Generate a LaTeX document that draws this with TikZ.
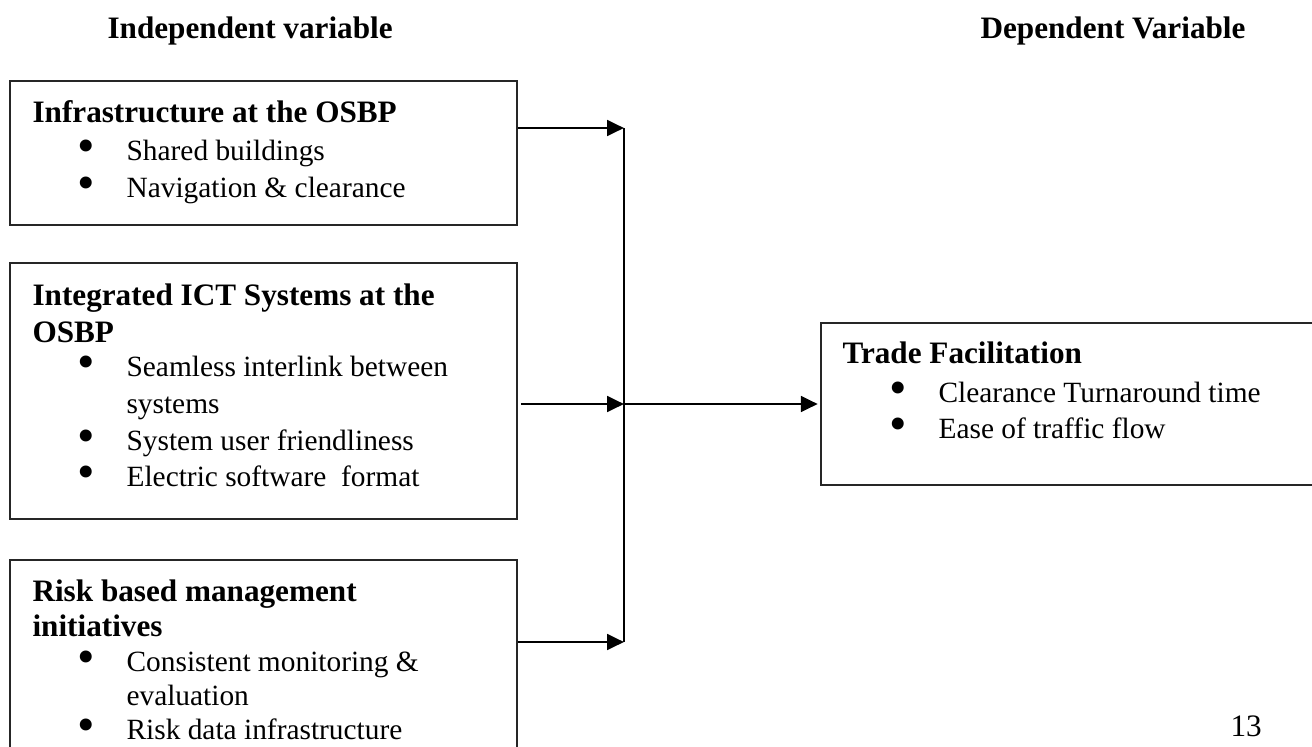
\documentclass[tikz,border=0pt]{standalone}
\usepackage{fontspec}
\setmainfont{Liberation Serif}
\usetikzlibrary{arrows.meta, positioning, fit}

\newcommand{\blt}{\makebox[30.8pt]{\smash{\raisebox{-0.9pt}{\scalebox{1.7}{\textbullet}}}}}

\begin{document}
\begin{tikzpicture}[
  x=0.3846pt, y=-0.3846pt,
  box/.style={draw=black!85, line width=0.5pt, inner sep=0pt},
  head/.style={anchor=base west, inner sep=0pt, font=\fontsize{12}{14}\selectfont\bfseries},
  txt/.style={anchor=base west, inner sep=0pt, font=\fontsize{11.3}{13.5}\selectfont},
  arrow/.style={draw, line width=1.1pt, -{Triangle[length=6.5pt, width=6pt]}},
  line/.style={draw, line width=0.5pt}
]

% Frame
\useasboundingbox (0,0) rectangle (1312,746);
\clip (0,0) rectangle (1312,746);

% Column titles
\node[head] (indep) at (107,38) {Independent variable};
\node[head] (dep) at (980,38) {Dependent Variable};

% Boxes
\node[box, fit={(10,81) (517,225)}] (infra) {};
\node[box, fit={(10,263) (517,519)}] (ict) {};
\node[box, fit={(10,560) (517,800)}] (risk) {};
\node[box, fit={(821,323) (1330,485)}] (trade) {};

% Infrastructure
\node[head] (infraT) at (32,122) {Infrastructure at the OSBP};
\node[txt] (infraA) at (46,160) {\blt Shared buildings};
\node[txt] (infraB) at (46,197) {\blt Navigation \& clearance};

% ICT systems
\node[head] (ictT1) at (32,305) {Integrated ICT Systems at the};
\node[head] (ictT2) at (32,342) {OSBP};
\node[txt] (ictA) at (46,376) {\blt Seamless interlink between};
\node[txt] (ictA2) at (126,413) {systems};
\node[txt] (ictB) at (46,450) {\blt System user friendliness};
\node[txt] (ictC) at (46,486) {\blt Electric software~ format};

% Risk management
\node[head] (riskT1) at (32,601) {Risk based management};
\node[head] (riskT2) at (32,636) {initiatives};
\node[txt] (riskA) at (46,671) {\blt Consistent monitoring \&};
\node[txt] (riskA2) at (126,705) {evaluation};
\node[txt] (riskB) at (46,739) {\blt Risk data infrastructure};

% Trade facilitation
\node[head] (tradeT) at (842,363) {Trade Facilitation};
\node[txt] (tradeA) at (858,402) {\blt Clearance Turnaround time};
\node[txt] (tradeB) at (858,438) {\blt Ease of traffic flow};

% Page number
\node[txt, font=\fontsize{12}{14}\selectfont] (page) at (1230,736) {13};

% Connectors
\coordinate (jTop) at (624,128);
\coordinate (jMid) at (624,404);
\coordinate (jBot) at (624,642);

\draw[line] (jTop) -- (jBot);
\draw[arrow] (infra.east |- jTop) -- (jTop);
\draw[arrow] ([xshift=1.2pt]ict.east |- jMid) -- (jMid);
\draw[arrow] (risk.east |- jBot) -- (jBot);
\draw[arrow] (jMid) -- ([xshift=-1pt]trade.west |- jMid);

\end{tikzpicture}
\end{document}
